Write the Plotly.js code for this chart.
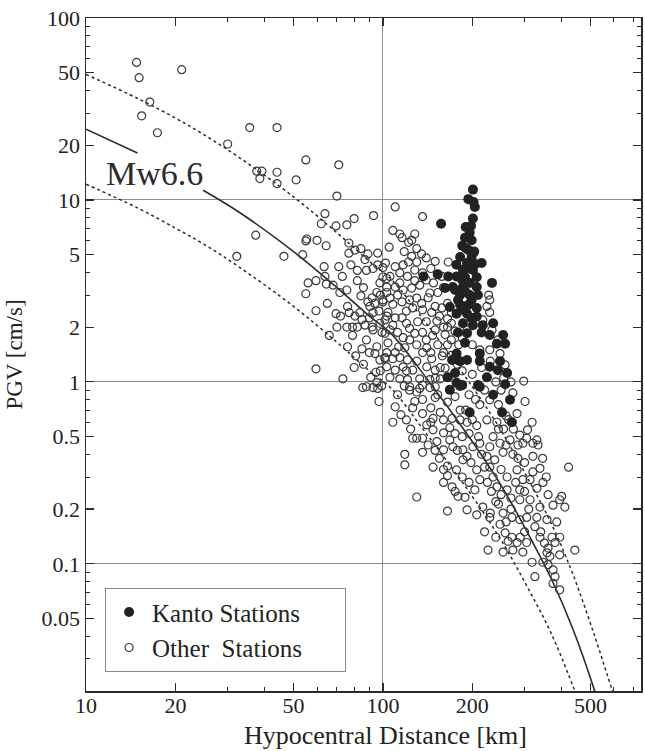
<!DOCTYPE html>
<html>
<head>
<meta charset="utf-8">
<script src="https://cdn.plot.ly/plotly-3.0.1.min.js"></script>
<style>html,body{margin:0;padding:0;background:#fff;}#chart{width:645px;height:751px;}</style>
</head>
<body>
<div id="chart"></div>
<script>
// ---------- model curve (Mw6.6) ----------
const curveDist  = [10, 14.9, null, 24.8, 33, 50, 70, 90, 106, 140, 200, 250, 306, 370, 436, 517, 560];
const curvePGV   = [24.5, 18.1, null, 11.3, 8.5, 5.2, 3.3, 2.3, 1.86, 1.05, 0.47, 0.27, 0.15, 0.082, 0.044, 0.02, 0.013];
const upperDist  = [10, 15, 20, 25, 33, 50, 70, 90, 106, 140, 200, 250, 306, 370, 436, 517, 594, 640];
const upperPGV   = [49, 36, 28.2, 22.8, 17, 10.4, 6.6, 4.6, 3.7, 2.1, 0.94, 0.54, 0.30, 0.165, 0.088, 0.04, 0.02, 0.0147];
const lowerDist  = [10, 15, 20, 25, 33, 50, 70, 90, 106, 140, 200, 250, 306, 370, 443, 480];
const lowerPGV   = [12.2, 9.0, 7.0, 5.7, 4.25, 2.6, 1.65, 1.15, 0.93, 0.52, 0.235, 0.135, 0.075, 0.041, 0.02, 0.014];

// ---------- Kanto stations ----------
const kantoDist = [201,194,202,204,201,198,157,189,199,185,194,182,199,215,177,192,186,201,233,153,166,137,177,189,207,162,172,186,207,182,196,209,168,182,194,207,177,192,207,186,201,217,235,179,192,215,229,254,189,242,258,177,192,212,212,248,229,244,262,175,224,185,168,209,258,235,268,196,252,272,182,165,171,182,177,212,190,203,196,185,196,190,199,186,198,179,175,205,190,196];
const kantoPGV  = [11.4,10.1,9.75,9.15,7.9,7.2,7.4,6.2,6.0,5.6,5.31,4.86,4.86,4.5,4.4,4.5,4.12,4.12,3.5,3.9,3.8,3.8,3.8,3.76,3.76,3.28,3.32,3.32,3.32,3.0,3.0,3.0,2.58,2.65,2.65,2.55,2.37,2.37,2.29,2.1,2.05,2.05,2.1,1.87,1.85,1.87,1.81,1.81,1.64,1.62,1.62,1.43,1.32,1.43,1.3,1.3,1.21,1.16,1.12,1.12,1.06,0.96,0.904,0.96,0.97,0.85,0.797,0.68,0.68,0.6,0.95,1.06,1.32,1.3,0.99,0.94,5.45,5.2,4.2,3.63,3.5,3.12,2.82,2.49,2.25,2.82,3.2,4.45,7.1,6.6];

// ---------- Other stations ----------
const otherDist = [14.8,15.1,21.0,16.4,15.4,17.4,35.6,44,30,55,37.6,39.1,38.5,44,44,51,37.3,55.4,32.2,46.4,71,
70,63.8,62,69.5,75.6,80,93,55,60,64.4,53.7,76.8,76.8,80.5,84.3,89,87,96,102,63.4,71,88,92.6,100,
63.8,73,59.5,56,64.5,55,71.6,75.6,84.3,95.4,92,103,103,97.7,59.5,69.5,72,76,77,80.5,83.6,89,90.4,92.6,94,100,103,
75.6,79,87,92,97.7,79,92.6,101.6,76,81,85,95.4,94,97.7,101.6,103,94.7,91,95.4,92.6,85.6,88,59.5,73.3,
114,116,122,135,166,110,117,122,130,128,100,105.6,114,121,136,140,103,110,114,117,125,133,144,153,
100,105.6,108,116,123,130,126,136,146,158,104,101.6,110,116,120,131,140,152,165,165,170,
99.3,105.6,112,123,123,136,150,162,104,113,118.5,130,140.5,153,165,101.6,108,114,121,136,146,158.5,
103,110,117,126,140.5,150,162,105.6,114,121,133,144,156,166,123,136,150,110,136,
227,229,224,229,217,233,244,229,212,192,248,258,298,
110,118.5,118.5,130,165,124,126,136,147.5,160,168,182,147.5,165,177,186,165,171,179,189,204,212,207,229,238,254,274,248,268,296,305,320,289,307,330,333,338,320,313,346,400,374,410,394,422,301,318,283,
217,229,248,272,289,305,330,357,220,258,272,283,305,338,371,394,380,394,360,357,443,318,346,360,374,380,374,394,325,226,254,274,296,264,207,192,245,254,
123,130,136,144,153,165,175,182,136,147.5,160,171,192,207,212,229,201,186,172,160,192,224,235,262,283,296,289,262,242,289,313,338,224,242,229,274,126,140.5,152,136,130,120,
170,178,185,200,215,195,205,220,240,250,230,180,175,185,200,212,245,260,255,270,255,265,
112,118,128,133,145,150,156,115,108,
142,155,160,168,175,178,185,195,190,200,198,210,215,220,225,232,240,250,270,280,300,310,325,340,350,365,300,290,270,260,240,230,285,260,300,320,345,355,360,385,330,250,235,245,275,285,195,185,175,160,150,145,
118,125,128,112,120,135,142,150,155,147,140,128,117,108,145,156,130,120,110,150,160,170,160,170,165,148,160,158,145,150,140,130,125,105,108,128,
65,68,82,86,78,82,96,98,90,85,82,70,66,88,90,86,80,98,97,96,99,97];
const otherPGV  = [57,47,52,34.5,29,23.4,25,25,20.3,16.6,14.4,14.4,13.1,14.2,12.3,12.9,6.4,6.1,4.9,4.9,15.6,
10.5,8.4,7.4,7.2,7.3,7.9,8.2,5.95,6.0,5.6,5.0,5.8,5.1,5.3,5.4,5.05,4.7,5.1,4.5,4.3,4.3,4.1,4.2,4.25,
3.8,3.8,3.6,3.5,3.45,3.05,3.1,3.2,2.97,3.1,2.9,3.1,3.7,3.5,2.46,2.37,2.3,2.6,2.4,2.3,2.4,2.75,2.6,2.4,2.7,2.75,2.3,
2.0,2.0,2.05,2.0,2.1,1.8,1.93,1.85,1.56,1.39,1.52,1.56,1.43,1.32,1.34,1.45,1.13,1.06,0.99,0.93,0.93,0.94,1.18,1.04,
6.5,6.2,5.85,5.05,4.56,4.3,4.4,4.56,4.56,4.12,3.77,3.8,3.97,3.8,3.97,3.63,3.32,3.32,3.5,3.2,3.28,3.4,3.08,3.1,
2.82,2.89,2.67,2.75,2.82,2.89,2.55,2.49,2.41,2.55,2.41,2.19,2.25,2.25,2.1,2.14,2.14,2.16,2.22,2.0,2.1,
1.87,1.93,1.87,1.97,1.7,1.87,1.93,1.82,1.64,1.56,1.54,1.6,1.54,1.6,1.6,1.36,1.34,1.36,1.32,1.45,1.34,1.39,
1.21,1.16,1.21,1.16,1.21,1.16,1.19,1.06,1.04,1.03,1.04,1.03,1.04,1.06,0.94,0.96,0.94,9.15,8.1,
3.0,2.82,2.6,2.41,2.19,1.93,1.7,1.5,1.5,1.93,1.43,1.24,1.01,
0.73,0.4,0.35,0.233,0.195,0.55,0.49,0.49,0.545,0.525,0.56,0.618,0.34,0.345,0.328,0.373,0.305,0.265,0.235,0.232,0.255,0.29,0.328,0.34,0.373,0.41,0.4,0.46,0.48,0.46,0.49,0.46,0.51,0.545,0.48,0.45,0.335,0.32,0.29,0.28,0.235,0.21,0.205,0.225,0.34,0.78,0.6,0.67,
0.205,0.18,0.165,0.18,0.175,0.18,0.18,0.175,0.15,0.148,0.14,0.131,0.131,0.14,0.14,0.14,0.131,0.112,0.122,0.115,0.119,0.102,0.102,0.099,0.0927,0.085,0.078,0.072,0.085,0.119,0.116,0.119,0.116,0.133,0.186,0.198,0.213,0.19,
0.9,0.88,0.8,0.93,0.85,0.775,0.83,0.70,0.67,0.63,0.618,0.63,0.6,0.575,0.46,0.44,0.44,0.423,0.44,0.423,0.39,0.39,0.3,0.3,0.328,0.29,0.255,0.255,0.265,0.225,0.225,0.205,0.618,0.6,0.797,0.87,0.72,0.58,0.47,0.41,0.49,0.618,
1.4,1.25,1.15,1.1,1.2,0.85,0.8,0.9,1.0,0.9,1.3,1.6,1.9,1.75,1.6,0.75,0.75,0.65,1.05,1.0,0.55,0.62,
0.85,0.95,0.78,0.92,0.72,0.82,0.68,0.66,0.6,
0.45,0.38,0.33,0.48,0.52,0.42,0.5,0.52,0.7,0.62,0.36,0.5,0.4,0.34,0.28,0.25,0.22,0.24,0.23,0.28,0.25,0.2,0.16,0.15,0.13,0.11,0.15,0.14,0.2,0.17,0.14,0.19,0.38,0.45,0.36,0.39,0.38,0.3,0.24,0.17,0.26,0.33,0.5,0.55,0.55,0.45,0.28,0.3,0.25,0.28,0.42,0.6,
5.2,4.9,3.6,3.0,2.45,2.7,2.9,2.6,2.3,1.8,1.7,1.85,1.75,2.05,1.45,1.2,1.3,1.15,1.45,1.05,1.45,1.7,2.0,2.4,2.7,3.5,3.3,3.8,4.2,4.6,4.8,5.4,6.0,5.5,6.8,6.5,
2.7,3.4,3.6,3.3,4.4,4.1,4.4,3.0,2.25,2.2,2.0,2.0,1.8,1.7,1.45,1.25,1.2,1.15,2.45,0.92,0.95,0.78];

// ---------- axes / text ----------
const xTickVals = [10, 20, 50, 100, 200, 500];
const xTickText = ['10', '20', '50', '100', '200', '500'];
const xMinorVals = [30, 40, 60, 70, 80, 90, 300, 400, 600, 700];
const yTickVals = [0.05, 0.1, 0.2, 0.5, 1, 2, 5, 10, 20, 50, 100];
const yTickText = ['0.05', '0.1', '0.2', '0.5', '1', '2', '5', '10', '20', '50', '100'];
const yMinorVals = [0.03,0.04,0.06,0.07,0.08,0.09,0.3,0.4,0.6,0.7,0.8,0.9,3,4,6,7,8,9,30,40,60,70,80,90];
const xGridVals = [100];
const yGridVals = [0.1, 1, 10];
const xRange = [10, 740];
const yRange = [0.02, 100];
const labelPos = {x: 17, y: 14};
const xTitleText = 'Hypocentral Distance [km]';
const yTitleText = 'PGV [cm/s]';
const kantoName = 'Kanto Stations';
const otherName = 'Other  Stations';
const legendPad = '\u00a0\u00a0\u00a0\u00a0\u00a0\u00a0';

const serif = 'Liberation Serif, Times New Roman, serif';
const ink = '#2b2b2b';

const traces = [
  {x: [null], y: [null], xaxis: 'x2', yaxis: 'y2', mode: 'markers', showlegend: false, hoverinfo: 'skip'},
  {x: upperDist, y: upperPGV, mode: 'lines', line: {color: ink, width: 1.5, dash: '3px,3px', shape: 'spline'}, showlegend: false, hoverinfo: 'skip'},
  {x: lowerDist, y: lowerPGV, mode: 'lines', line: {color: ink, width: 1.5, dash: '3px,3px', shape: 'spline'}, showlegend: false, hoverinfo: 'skip'},
  {x: curveDist, y: curvePGV, mode: 'lines', line: {color: ink, width: 1.6, shape: 'spline'}, showlegend: false, hoverinfo: 'skip'},
  {x: otherDist, y: otherPGV, mode: 'markers', name: otherName + legendPad, legendrank: 2,
   marker: {symbol: 'circle-open', size: 8, color: '#3a3a3a', line: {width: 1.2, color: '#3a3a3a'}}},
  {x: kantoDist, y: kantoPGV, mode: 'markers', name: kantoName + legendPad, legendrank: 1,
   marker: {symbol: 'circle', size: 10, color: '#222'}}
];

const axisCommon = {
  type: 'log', showline: true, linecolor: ink, linewidth: 1.5, mirror: 'allticks',
  ticks: 'inside', ticklen: 8, tickwidth: 1.2, tickcolor: ink, showgrid: false, zeroline: false,
  tickfont: {family: serif, size: 22, color: '#222'}
};

const layout = {
  width: 645, height: 751,
  margin: {l: 86, r: 4, t: 18, b: 60},
  paper_bgcolor: '#fff', plot_bgcolor: '#fff',
  font: {family: serif, color: '#222'},
  showlegend: true,
  xaxis: Object.assign({}, axisCommon, {
    range: xRange.map(Math.log10), tickmode: 'array', tickvals: xTickVals, ticktext: xTickText,
    ticklabelstandoff: -6,
    minor: {tickmode: 'array', tickvals: xMinorVals, ticks: 'inside', ticklen: 4, tickwidth: 1, tickcolor: ink}
  }),
  yaxis: Object.assign({}, axisCommon, {
    range: yRange.map(Math.log10), tickmode: 'array', tickvals: yTickVals, ticktext: yTickText,
    minor: {tickmode: 'array', tickvals: yMinorVals, ticks: 'inside', ticklen: 4, tickwidth: 1, tickcolor: ink},
    title: {text: yTitleText, font: {family: serif, size: 23, color: '#222'}, standoff: 12}
  }),
  xaxis2: {type: 'log', overlaying: 'x', range: xRange.map(Math.log10), tickmode: 'array', tickvals: xGridVals,
    showgrid: true, gridcolor: '#8c8c8c', gridwidth: 1, showticklabels: false, ticks: '', showline: false, zeroline: false},
  yaxis2: {type: 'log', overlaying: 'y', range: yRange.map(Math.log10), tickmode: 'array', tickvals: yGridVals,
    showgrid: true, gridcolor: '#8c8c8c', gridwidth: 1, showticklabels: false, ticks: '', showline: false, zeroline: false},
  legend: {x: 0.034, y: 0.153, xanchor: 'left', yanchor: 'top', bgcolor: '#fff',
    bordercolor: '#8a8a8a', borderwidth: 1.2, font: {family: serif, size: 25, color: '#222'},
    itemwidth: 36},
  annotations: [
    {x: Math.log10(labelPos.x), y: Math.log10(labelPos.y), xref: 'x', yref: 'y', text: 'Mw6.6',
     showarrow: false, font: {family: serif, size: 34, color: ink}},
    {x: 0.54, y: -0.066, xref: 'paper', yref: 'paper', xanchor: 'center', yanchor: 'middle', text: xTitleText,
     showarrow: false, font: {family: serif, size: 26, color: '#222'}}
  ]
};

Plotly.newPlot('chart', traces, layout, {staticPlot: true, displayModeBar: false});
</script>
</body>
</html>
